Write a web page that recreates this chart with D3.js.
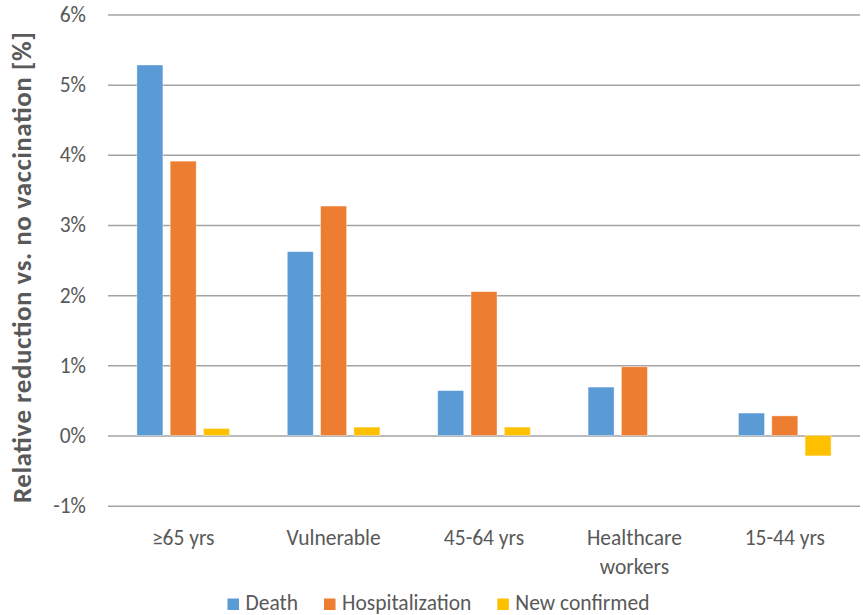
<!DOCTYPE html>
<html>
<head>
<meta charset="utf-8">
<script src="https://cdn.jsdelivr.net/npm/d3@7"></script>
<style>
  html, body { margin: 0; padding: 0; background: #fff; }
  svg { display: block; }
  text { font-family: Carlito, Calibri, Lato, sans-serif; fill: #595959; }
</style>
</head>
<body>
<svg id="chart" width="863" height="615"></svg>
<script>
// Groups shown along the x axis
const categories = ["≥65 yrs", "Vulnerable", "45-64 yrs", "Healthcare workers", "15-44 yrs"];

// Relative reduction vs. no vaccination, in percent
const death          = [5.28, 2.62, 0.64, 0.69, 0.32];
const hospitalization = [3.91, 3.27, 2.05, 0.98, 0.28];
const newConfirmed   = [0.10, 0.12, 0.12, 0.00, -0.29];

const seriesNames  = ["Death", "Hospitalization", "New confirmed"];
const seriesColors = ["#5B9BD5", "#ED7D31", "#FFC000"];
const yTicks = [-1, 0, 1, 2, 3, 4, 5, 6];
const yTitle = "Relative reduction vs. no vaccination [%]";

const seriesValues = [death, hospitalization, newConfirmed];

const svg = d3.select("#chart");
const plot = { left: 108, right: 860, top: 14.5, bottom: 505.7 };
const fontSize = 21.5;

const x = d3.scaleBand()
  .domain(categories)
  .range([plot.left, plot.right])
  .padding(0);

const xSeries = d3.scaleBand()
  .domain(seriesNames)
  .range([0, x.bandwidth()])
  .paddingInner(0.22)
  .paddingOuter(0.868);

const y = d3.scaleLinear()
  .domain([d3.min(yTicks), d3.max(yTicks)])
  .range([plot.bottom, plot.top]);

// Horizontal gridlines with percent labels
const yAxis = svg.append("g")
  .attr("transform", `translate(${plot.left},0)`)
  .call(d3.axisLeft(y)
    .tickValues(yTicks)
    .tickSize(-(plot.right - plot.left))
    .tickPadding(22)
    .tickFormat(d => d + "%"));
yAxis.select(".domain").remove();
yAxis.selectAll(".tick line")
  .attr("stroke", "#a3a3a3")
  .attr("stroke-width", 1.5);
yAxis.selectAll(".tick text")
  .attr("font-size", fontSize)
  .attr("fill", "#595959")
  .attr("font-family", null);

// Bars, one group per category
const rows = categories.map((c, i) => ({
  category: c,
  values: seriesNames.map((s, j) => ({ series: s, value: seriesValues[j][i], color: seriesColors[j] }))
}));

const groups = svg.append("g")
  .selectAll("g")
  .data(rows)
  .join("g")
  .attr("transform", d => `translate(${x(d.category)},0)`);

groups.selectAll("rect")
  .data(d => d.values)
  .join("rect")
  .attr("x", d => xSeries(d.series))
  .attr("width", xSeries.bandwidth())
  .attr("y", d => y(Math.max(0, d.value)))
  .attr("height", d => Math.abs(y(d.value) - y(0)))
  .attr("fill", d => d.color)
  .attr("stroke", "#ffffff")
  .attr("stroke-opacity", 0.45)
  .attr("stroke-width", 0.8);

// Category labels under the plot, wrapped when too wide
const xAxis = svg.append("g")
  .attr("transform", `translate(0,${plot.bottom})`)
  .call(d3.axisBottom(x).tickSize(0).tickPadding(0));
xAxis.select(".domain").remove();
xAxis.selectAll(".tick text")
  .attr("font-size", fontSize)
  .attr("fill", "#595959")
  .attr("font-family", null)
  .attr("y", 0)
  .attr("dy", null)
  .each(function(d) {
    const t = d3.select(this);
    t.text(null);
    const full = t.append("tspan").attr("x", 0).attr("y", 39).text(d);
    if (this.getComputedTextLength() > x.bandwidth() * 0.8) {
      full.remove();
      d.split(" ").forEach((w, k) => {
        t.append("tspan").attr("x", 0).attr("y", 39 + k * 29).text(w);
      });
    }
  });

// Rotated value-axis title
svg.append("text")
  .attr("transform", "translate(31,267.5) rotate(-90)")
  .attr("text-anchor", "middle")
  .attr("font-size", 27)
  .attr("font-weight", "bold")
  .attr("textLength", 471)
  .attr("lengthAdjust", "spacing")
  .text(yTitle);

// Legend along the bottom, centred on the chart
const legend = svg.append("g");
const items = legend.selectAll("g")
  .data(seriesNames)
  .join("g");
items.append("rect")
  .attr("width", 11.5)
  .attr("height", 11.5)
  .attr("y", -11.5)
  .attr("fill", (d, i) => seriesColors[i]);
items.append("text")
  .attr("x", 18)
  .attr("font-size", fontSize)
  .text(d => d);
let offset = 0;
items.each(function() {
  d3.select(this).attr("transform", `translate(${offset},0)`);
  offset += this.getBBox().width + 26;
});
const legendWidth = offset - 26;
legend.attr("transform", `translate(${438.5 - legendWidth / 2},610)`);
</script>
</body>
</html>
